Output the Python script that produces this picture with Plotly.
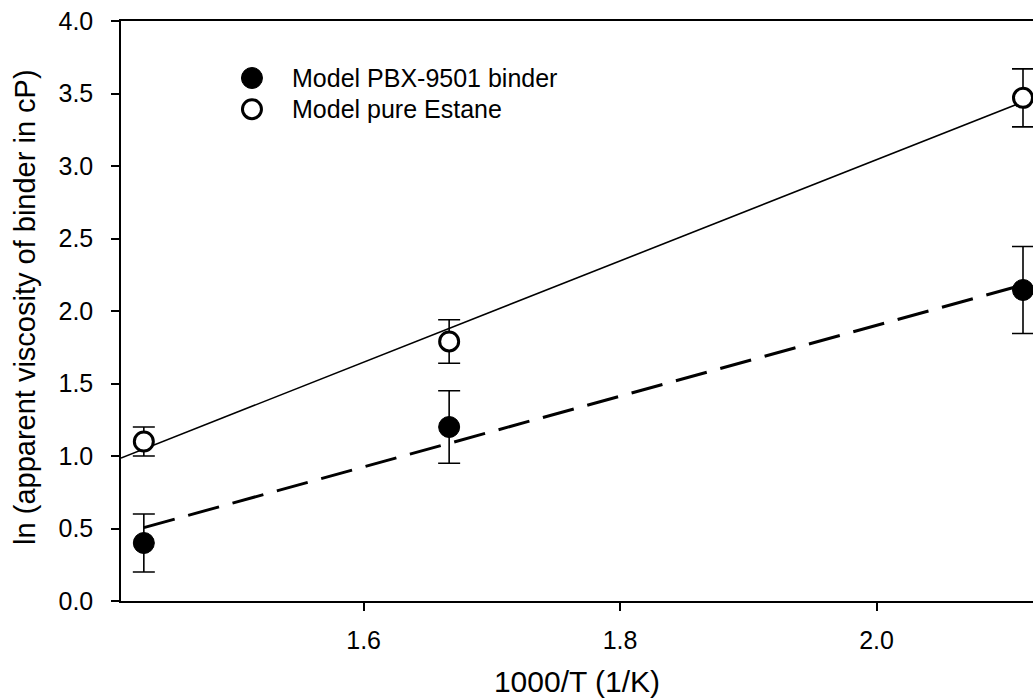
import plotly.graph_objects as go

# data
x_temp = [1.4286, 1.6667, 2.1142]
pbx_y = [0.40, 1.20, 2.145]
pbx_err = [0.20, 0.25, 0.30]
est_y = [1.10, 1.79, 3.47]
est_err = [0.10, 0.15, 0.20]

# regression line endpoints
est_fit_x = [1.4108, 2.122]
est_fit_y = [0.986, 3.47]
pbx_fit_x = [1.4286, 2.1142]
pbx_fit_y = [0.506, 2.18]

x_ticks = [1.6, 1.8, 2.0]
y_ticks = [0.0, 0.5, 1.0, 1.5, 2.0, 2.5, 3.0, 3.5, 4.0]

series_names = ["Model PBX-9501 binder", "Model pure Estane"]
x_title = "1000/T (1/K)"
y_title = "ln (apparent viscosity of binder in cP)"

FONT = "Liberation Sans, Arial, sans-serif"

fig = go.Figure()

fig.add_trace(go.Scatter(x=est_fit_x, y=est_fit_y, mode="lines",
                         line=dict(color="black", width=1.6), showlegend=False))
fig.add_trace(go.Scatter(x=pbx_fit_x, y=pbx_fit_y, mode="lines",
                         line=dict(color="black", width=3, dash="32px,14px"),
                         showlegend=False))

pbx_marker = dict(size=21, color="black", line=dict(color="black", width=1))
est_marker = dict(size=19, color="white", line=dict(color="black", width=3))

fig.add_trace(go.Scatter(x=x_temp, y=pbx_y, mode="markers", name=series_names[0],
                         marker=pbx_marker,
                         error_y=dict(type="data", array=pbx_err, color="black", thickness=1.6, width=11),
                         cliponaxis=False, showlegend=False))
fig.add_trace(go.Scatter(x=x_temp, y=est_y, mode="markers", name=series_names[1],
                         marker=est_marker,
                         error_y=dict(type="data", array=est_err, color="black", thickness=1.6, width=11),
                         cliponaxis=False, showlegend=False))

# manual legend (symbols on an overlay axis in plot-fraction units)
leg_x, leg_y = 0.1436, [0.9017, 0.848]
fig.add_trace(go.Scatter(x=[leg_x], y=[leg_y[0]], mode="markers", marker=pbx_marker,
                         xaxis="x2", yaxis="y2", showlegend=False, hoverinfo="skip"))
fig.add_trace(go.Scatter(x=[leg_x], y=[leg_y[1]], mode="markers", marker=est_marker,
                         xaxis="x2", yaxis="y2", showlegend=False, hoverinfo="skip"))
for name, yy in zip(series_names, leg_y):
    fig.add_annotation(x=0.1856, y=yy, xref="x2", yref="y2", text=name, showarrow=False,
                       xanchor="left", yanchor="middle", font=dict(size=25))

# y-axis title as rotated text
fig.add_annotation(x=-0.1053, y=0.507, xref="paper", yref="paper", text=y_title,
                   textangle=-90, showarrow=False, xanchor="center", yanchor="middle",
                   font=dict(size=29))

fig.update_layout(
    width=1033, height=698,
    margin=dict(l=121, r=0, t=21, b=97),
    plot_bgcolor="white", paper_bgcolor="white",
    font=dict(family=FONT, color="black", size=22),
    showlegend=False,
    xaxis2=dict(range=[0, 1], overlaying="x", visible=False),
    yaxis2=dict(range=[0, 1], overlaying="y", visible=False),
    xaxis=dict(range=[1.4108, 2.122], tickvals=x_ticks, ticktext=["1.6", "1.8", "2.0"],
               ticks="outside", ticklen=8, tickwidth=1.5, tickcolor="black",
               showline=True, linecolor="black", linewidth=1.5, mirror=True,
               showgrid=False, zeroline=False,
               tickfont=dict(size=25), ticklabelstandoff=8,
               title=dict(text=x_title, font=dict(size=30), standoff=22)),
    yaxis=dict(range=[0, 4.0], tickvals=y_ticks, ticktext=[f"{v:.1f}" for v in y_ticks],
               ticks="outside", ticklen=8, tickwidth=1.5, tickcolor="black",
               showline=True, linecolor="black", linewidth=1.5,
               showgrid=False, zeroline=False,
               tickfont=dict(size=25), ticklabelstandoff=13),
)

fig.write_html("out.html")
